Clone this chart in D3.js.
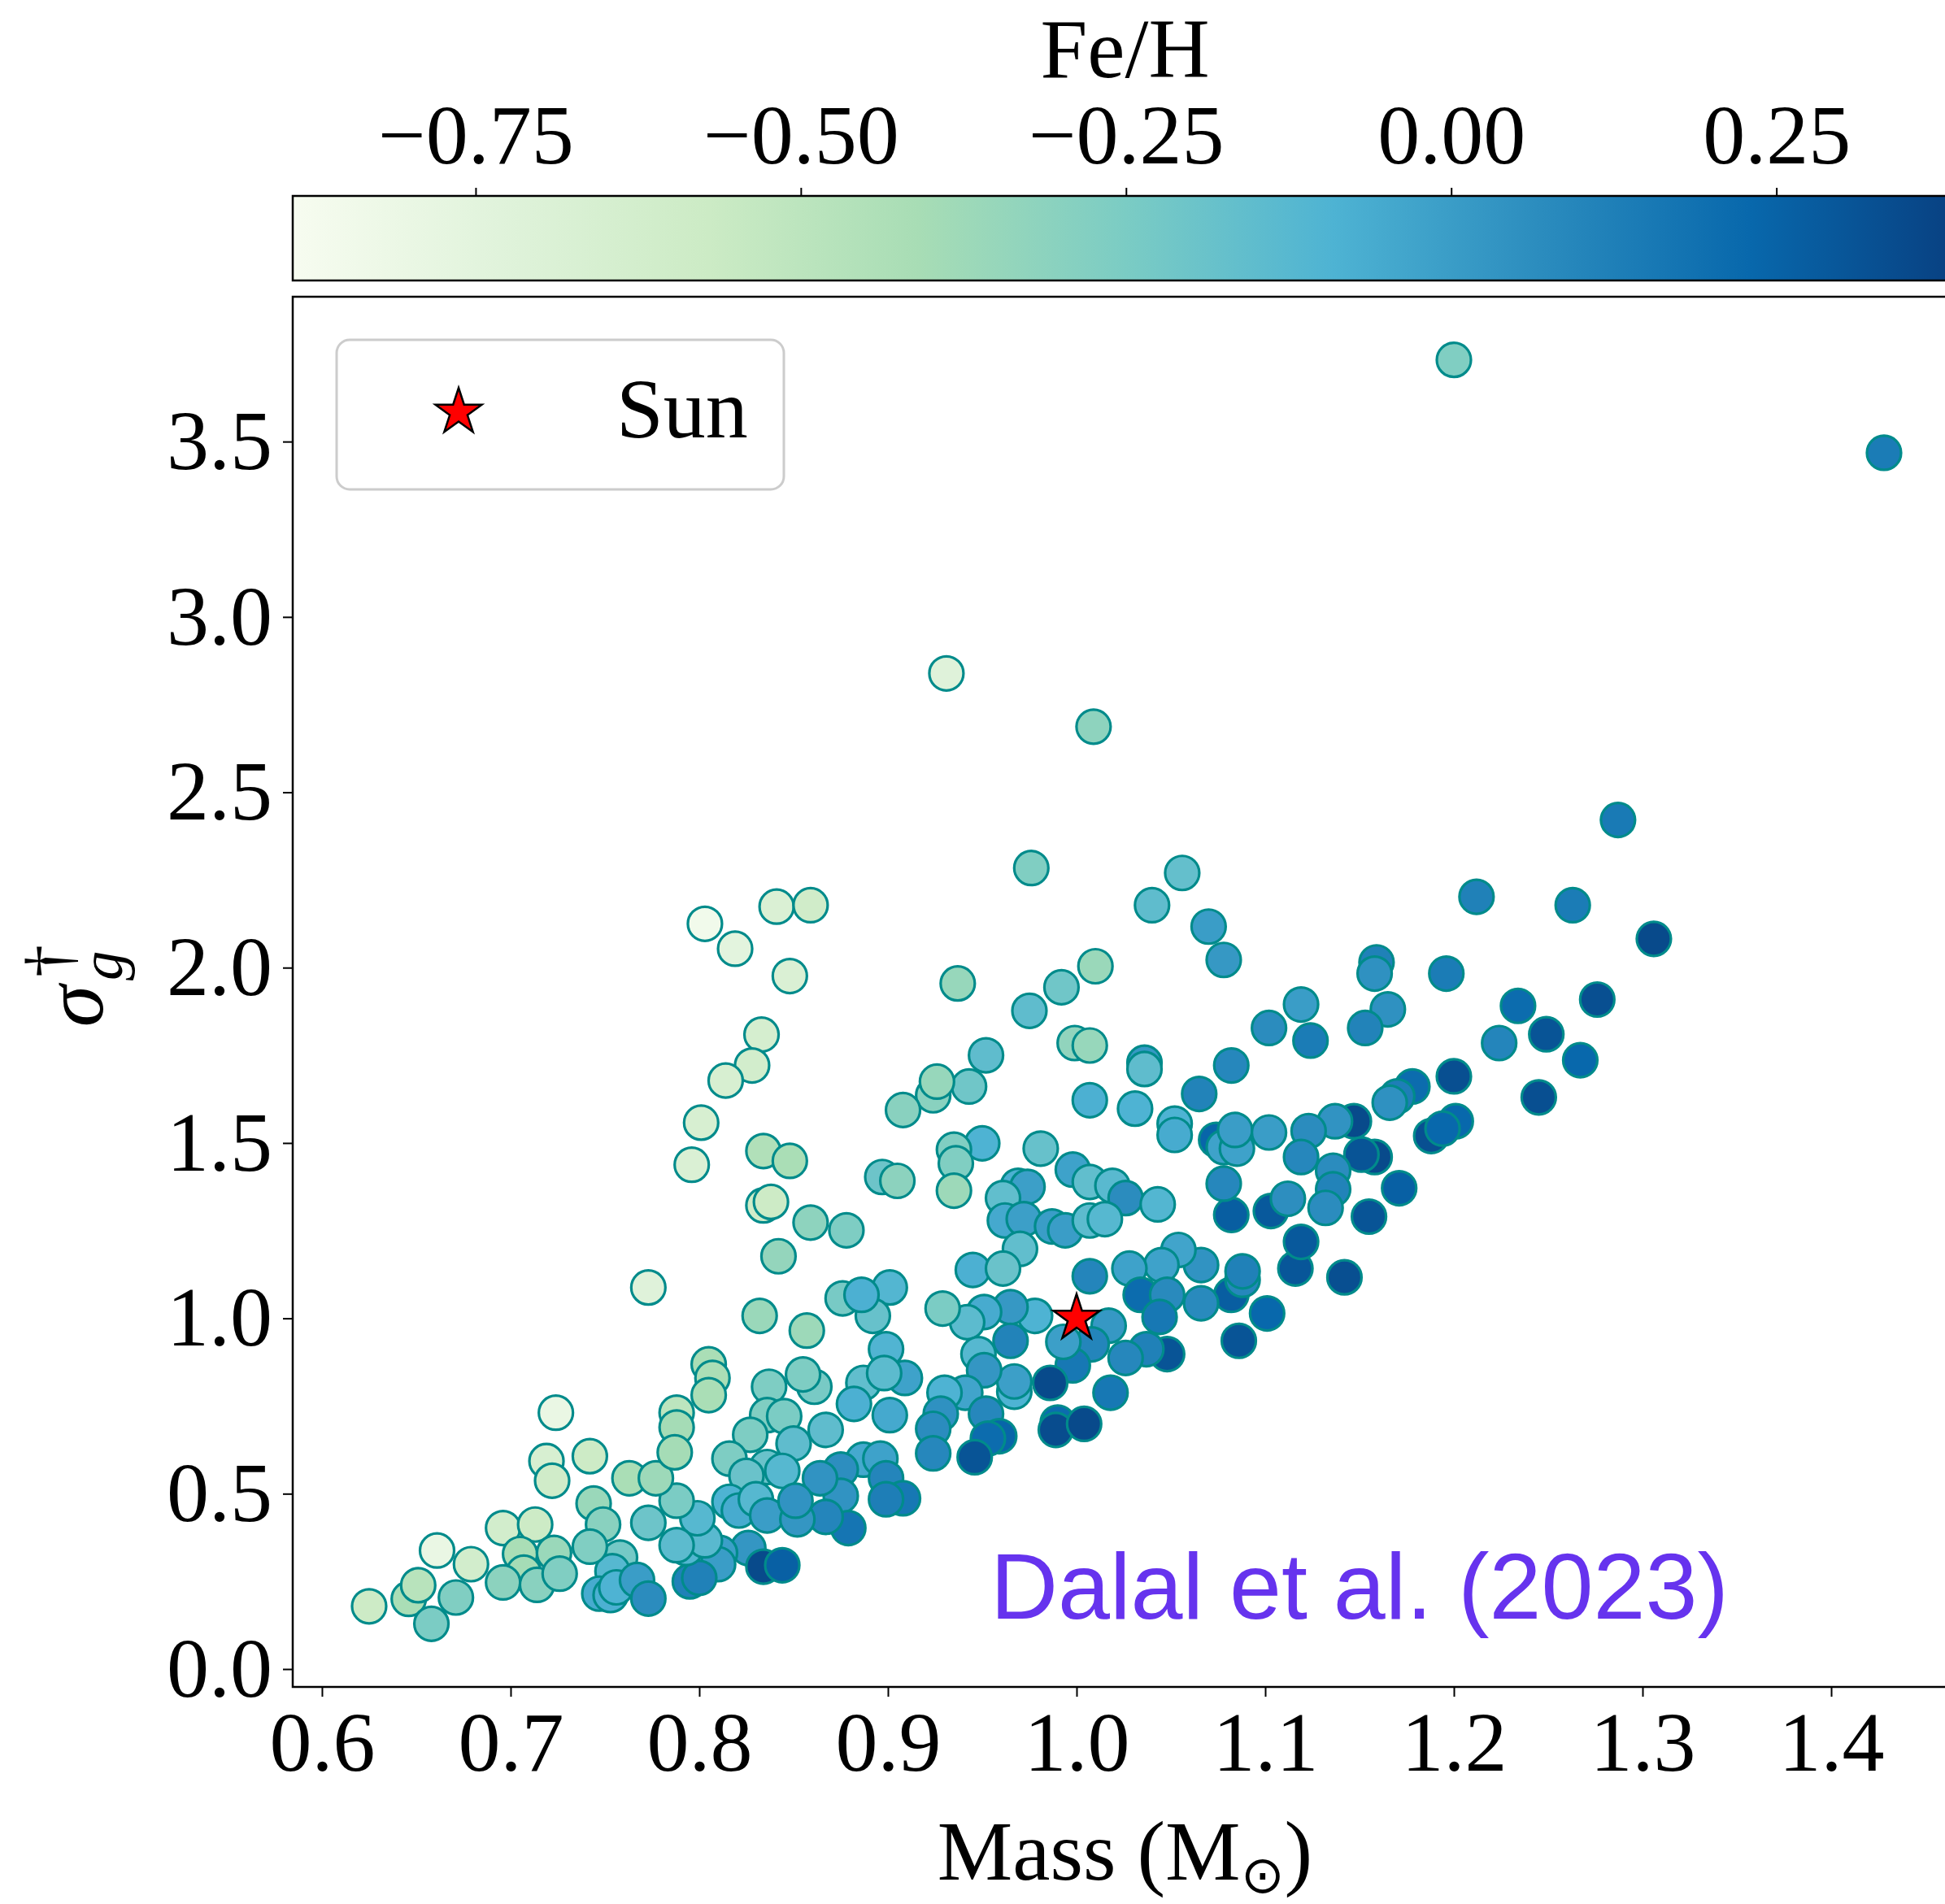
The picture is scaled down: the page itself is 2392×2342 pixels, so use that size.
<!DOCTYPE html>
<html>
<head>
<meta charset="utf-8">
<script src="https://cdn.jsdelivr.net/npm/d3@7"></script>
<style>
  html, body { margin: 0; padding: 0; background: #ffffff; }
  svg { display: block; }
</style>
</head>
<body>
<script>
// Stellar mass (solar units), granulation amplitude sigma_g^dagger and [Fe/H]
const mass = [
  1.200,1.428,0.931,1.009,1.287,0.976,1.056,1.040,1.212,1.263,1.306,0.803,0.819,0.841,0.859,0.848,
  1.070,1.078,1.010,0.992,0.937,0.975,1.196,1.159,1.158,1.119,1.165,1.234,1.276,1.102,1.153,1.124,
  1.224,1.249,1.267,1.245,1.200,1.178,1.170,1.166,1.201,1.188,1.194,1.147,1.137,1.123,1.158,1.151,
  1.136,1.136,1.132,1.171,1.155,1.142,1.116,1.119,1.082,1.103,1.112,1.078,1.101,1.086,1.082,1.088,
  1.088,1.066,1.066,1.054,1.045,1.028,1.034,1.048,1.044,1.048,1.037,1.026,1.018,1.017,1.008,0.998,
  0.993,0.986,0.990,0.989,1.004,1.007,0.978,0.965,0.965,0.951,0.942,0.929,0.948,0.967,0.967,0.951,
  0.941,0.930,0.928,0.952,0.924,0.959,0.953,0.946,0.924,0.909,0.899,0.901,0.892,0.876,0.887,0.898,
  0.882,0.901,0.867,0.887,0.896,0.875,0.899,0.875,0.908,0.899,0.879,0.867,0.864,0.861,0.855,0.837,
  0.836,0.845,0.850,0.827,0.816,0.836,0.844,0.825,0.816,0.821,0.830,0.836,0.852,0.851,0.826,0.834,
  0.844,0.811,0.810,0.795,0.800,0.793,0.803,0.799,0.788,0.788,0.773,0.758,0.754,0.747,0.753,0.756,
  0.767,0.773,0.744,0.749,0.742,0.805,0.807,0.805,0.724,0.719,0.722,0.742,0.763,0.777,0.788,0.788,
  0.787,0.625,0.646,0.651,0.658,0.661,0.671,0.679,0.696,0.713,0.705,0.707,0.723,0.696,0.714,0.726,
  0.773,0.832,0.857,0.842,0.859,0.878,0.834,0.838,0.834,0.848,0.833,0.828,0.814,0.801,0.796,0.952,
  0.943,0.924,0.926,0.908,0.950,0.935,0.936,0.935,0.981,0.998,1.007,0.999,1.007,1.007,0.897,0.905,
  0.969,0.974,0.961,0.962,0.972,0.987,0.994,0.970,1.007,0.945,0.961,1.019,1.026,1.043,1.015,1.036,
  1.036,1.031,1.052,1.052,1.082,1.065,1.074,1.078,1.085,1.084,1.102,1.119,0.886
];
const sigma = [
  3.733,3.468,2.839,2.687,2.421,2.284,2.270,2.178,2.202,2.178,2.082,2.125,2.054,2.174,2.178,1.976,
  2.117,2.022,2.004,1.944,1.955,1.877,1.983,2.015,1.983,1.895,1.881,1.891,1.909,1.828,1.828,1.792,
  1.785,1.810,1.736,1.630,1.690,1.661,1.633,1.615,1.562,1.520,1.541,1.562,1.562,1.534,1.460,1.467,
  1.421,1.368,1.315,1.371,1.290,1.117,1.142,1.218,1.295,1.306,1.341,1.384,1.014,0.936,1.067,1.110,
  1.134,1.152,1.043,1.195,1.152,1.142,1.067,1.067,1.004,0.898,0.912,0.887,0.788,0.979,0.926,0.866,
  0.933,0.816,0.703,0.682,0.699,1.120,1.007,1.032,0.936,1.018,0.989,1.028,0.898,0.791,0.820,0.852,
  0.788,0.788,0.728,0.728,0.685,0.664,0.657,0.604,0.615,0.830,0.912,1.088,1.007,1.057,0.816,0.844,
  0.756,0.724,0.682,0.597,0.600,0.569,0.544,0.494,0.487,0.484,0.402,0.434,0.544,0.805,0.840,0.805,
  0.724,0.721,0.643,0.668,0.600,0.576,0.565,0.551,0.477,0.452,0.484,0.438,0.427,0.480,0.345,0.292,
  0.296,0.331,0.299,0.250,0.260,0.345,0.367,0.430,0.480,0.353,0.417,0.318,0.279,0.215,0.211,0.233,
  0.254,0.201,0.472,0.412,0.349,0.869,0.830,0.781,0.731,0.593,0.537,0.607,0.544,0.544,0.731,0.689,
  0.618,0.179,0.200,0.239,0.129,0.338,0.204,0.299,0.402,0.412,0.328,0.275,0.331,0.247,0.240,0.272,
  1.088,1.007,0.965,1.177,1.273,1.251,1.322,1.332,1.477,1.449,1.809,1.721,1.678,1.558,1.438,1.750,
  1.661,1.636,1.675,1.594,1.499,1.481,1.442,1.364,1.484,1.424,1.389,1.785,1.778,1.622,1.403,1.392,
  1.378,1.375,1.343,1.279,1.283,1.262,1.251,1.198,1.279,1.138,1.142,1.378,1.343,1.325,1.283,1.729,
  1.711,1.598,1.555,1.523,1.721,1.640,1.509,1.488,1.484,1.537,1.530,1.460,1.067
];
const feh = [
  -0.27,0.14,-0.72,-0.32,0.15,-0.27,-0.17,-0.15,0.12,0.14,0.35,-0.85,-0.75,-0.68,-0.60,-0.68,
  0.00,0.02,-0.36,-0.21,-0.35,-0.15,0.14,0.12,0.05,0.00,0.05,0.21,0.33,0.07,0.11,0.14,
  0.10,0.31,0.23,0.33,0.33,0.21,0.13,0.05,0.23,0.33,0.23,0.35,0.04,0.07,0.35,0.31,
  0.07,0.11,0.07,0.26,0.31,0.33,0.30,0.29,0.27,0.29,0.06,0.09,0.23,0.31,0.27,0.09,
  0.12,0.04,0.08,-0.03,-0.02,-0.02,0.21,0.08,0.16,0.31,0.12,0.09,0.16,0.02,0.10,0.16,
  -0.01,0.35,0.21,0.34,0.35,0.10,-0.09,0.02,0.11,-0.06,-0.14,-0.25,-0.12,-0.09,-0.01,0.03,
  -0.03,-0.09,0.05,0.09,0.07,0.24,0.21,0.31,0.09,-0.02,-0.10,-0.11,-0.18,-0.24,-0.16,-0.14,
  -0.08,-0.05,-0.15,-0.05,-0.02,0.06,0.10,0.04,0.16,0.13,0.17,0.10,0.04,-0.24,-0.26,-0.26,
  -0.27,-0.25,-0.15,-0.26,-0.26,-0.19,-0.12,-0.19,-0.09,-0.06,-0.12,0.00,0.03,0.04,0.03,0.35,
  0.26,-0.01,0.00,0.12,0.12,-0.11,-0.13,-0.12,-0.25,-0.14,-0.20,-0.23,-0.12,-0.06,-0.08,-0.09,
  0.00,0.07,-0.36,-0.30,-0.27,-0.42,-0.42,-0.42,-0.80,-0.66,-0.60,-0.58,-0.42,-0.37,-0.50,-0.40,
  -0.40,-0.58,-0.42,-0.48,-0.25,-0.80,-0.27,-0.62,-0.62,-0.58,-0.42,-0.40,-0.36,-0.31,-0.30,-0.27,
  -0.72,-0.36,-0.37,-0.34,-0.32,-0.26,-0.60,-0.58,-0.45,-0.42,-0.64,-0.62,-0.66,-0.66,-0.68,-0.15,
  -0.21,-0.30,-0.35,-0.30,-0.09,-0.27,-0.27,-0.37,-0.18,-0.02,-0.16,-0.33,-0.35,-0.08,-0.20,-0.31,
  -0.08,-0.01,-0.16,-0.05,-0.01,0.00,0.00,-0.16,-0.14,-0.08,-0.19,-0.13,0.07,-0.11,-0.12,0.02,
  -0.15,-0.09,-0.09,-0.06,0.09,0.11,0.24,-0.02,-0.02,0.00,0.00,0.09,-0.08
];

// The Sun as reference point
const sunMass = [1.0];
const sunSigma = [1.0];

const xTicks = [0.6, 0.7, 0.8, 0.9, 1.0, 1.1, 1.2, 1.3, 1.4];
const yTicks = [0.0, 0.5, 1.0, 1.5, 2.0, 2.5, 3.0, 3.5];
const cTicks = [-0.75, -0.50, -0.25, 0.00, 0.25];

// GnBu colour ramp (ColorBrewer, 9 classes)
const gnbu = ["#f7fcf0","#e0f3db","#ccebc5","#a8ddb5","#7bccc4","#4eb3d3","#2b8cbe","#0868ac","#084081"];

const W = 2392, H = 2342;
const SERIF = "'Liberation Serif', 'Times New Roman', serif";
const FS = 104;

const plot = { left: 360, top: 365, right: 2407, bottom: 2075 };
const cbar = { left: 360, right: 2407, top: 241, bottom: 345 };

const x = d3.scaleLinear().domain([0.5845, 1.4668]).range([plot.left, plot.right]);
const y = d3.scaleLinear().domain([-0.051, 3.913]).range([plot.bottom, plot.top]);

const cMin = -0.8906, cMax = 0.389;
const cStops = d3.range(gnbu.length).map(i => cMin + (cMax - cMin) * i / (gnbu.length - 1));
const color = d3.scaleLinear().domain(cStops).range(gnbu).interpolate(d3.interpolateRgb).clamp(true);
const cx = d3.scaleLinear().domain([cMin, cMax]).range([cbar.left, cbar.right]);

const svg = d3.select("body").append("svg")
  .attr("width", W).attr("height", H)
  .attr("viewBox", `0 0 ${W} ${H}`);

svg.append("rect").attr("width", W).attr("height", H).attr("fill", "#ffffff");

// ---- colour bar ----
const defs = svg.append("defs");
const grad = defs.append("linearGradient").attr("id", "gnbu-grad")
  .attr("x1", "0%").attr("x2", "100%").attr("y1", "0%").attr("y2", "0%");
gnbu.forEach((c, i) => {
  grad.append("stop").attr("offset", (i / (gnbu.length - 1) * 100) + "%").attr("stop-color", c);
});

svg.append("rect")
  .attr("x", cbar.left).attr("y", cbar.top)
  .attr("width", cbar.right - cbar.left).attr("height", cbar.bottom - cbar.top)
  .attr("fill", "url(#gnbu-grad)")
  .attr("stroke", "#000").attr("stroke-width", 2.5);

const cAxis = svg.append("g")
  .attr("transform", `translate(0,${cbar.top})`)
  .call(d3.axisTop(cx).tickValues(cTicks).tickSize(10).tickPadding(30).tickFormat(d3.format(".2f")));
cAxis.select(".domain").remove();
cAxis.selectAll(".tick line").attr("stroke", "#000").attr("stroke-width", 2);
cAxis.selectAll(".tick text")
  .attr("font-family", SERIF).attr("font-size", FS).attr("fill", "#000").attr("dy", "0");

svg.append("text")
  .attr("x", (cbar.left + cbar.right) / 2).attr("y", 95)
  .attr("text-anchor", "middle")
  .attr("font-family", SERIF).attr("font-size", FS)
  .text("Fe/H");

// ---- main axes ----
const clip = defs.append("clipPath").attr("id", "plot-clip");
clip.append("rect").attr("x", plot.left).attr("y", plot.top)
  .attr("width", plot.right - plot.left).attr("height", plot.bottom - plot.top);

const xAxis = svg.append("g")
  .attr("transform", `translate(0,${plot.bottom})`)
  .call(d3.axisBottom(x).tickValues(xTicks).tickSize(12).tickPadding(17).tickFormat(d3.format(".1f")));
const yAxis = svg.append("g")
  .attr("transform", `translate(${plot.left},0)`)
  .call(d3.axisLeft(y).tickValues(yTicks).tickSize(12).tickPadding(13).tickFormat(d3.format(".1f")));
[xAxis, yAxis].forEach(a => {
  a.select(".domain").remove();
  a.selectAll(".tick line").attr("stroke", "#000").attr("stroke-width", 2);
  a.selectAll(".tick text").attr("font-family", SERIF).attr("font-size", FS).attr("fill", "#000");
});

// scatter points
const pts = mass.map((m, i) => ({ m, s: sigma[i], f: feh[i] }));
svg.append("g").attr("clip-path", "url(#plot-clip)")
  .selectAll("circle").data(pts).join("circle")
  .attr("cx", d => x(d.m)).attr("cy", d => y(d.s)).attr("r", 21)
  .attr("fill", d => color(d.f))
  .attr("stroke", "#008b8b").attr("stroke-width", 3.2);

// the Sun
const star = d3.symbol().type(d3.symbolStar).size(1010);
svg.append("g").selectAll("path").data(sunMass).join("path")
  .attr("d", star)
  .attr("transform", (d, i) => `translate(${x(d)},${y(sunSigma[i])})`)
  .attr("fill", "#ff0000").attr("stroke", "#000").attr("stroke-width", 2.5)
  .attr("stroke-linejoin", "miter");

// frame
svg.append("rect")
  .attr("x", plot.left).attr("y", plot.top)
  .attr("width", plot.right - plot.left).attr("height", plot.bottom - plot.top)
  .attr("fill", "none").attr("stroke", "#000").attr("stroke-width", 2.5);

// legend
const leg = svg.append("g");
leg.append("rect")
  .attr("x", 414).attr("y", 418).attr("width", 550).attr("height", 184)
  .attr("rx", 16).attr("ry", 16)
  .attr("fill", "#ffffff").attr("fill-opacity", 0.8)
  .attr("stroke", "#cccccc").attr("stroke-width", 3);
leg.append("path")
  .attr("d", star)
  .attr("transform", "translate(564,507)")
  .attr("fill", "#ff0000").attr("stroke", "#000").attr("stroke-width", 2.5);
leg.append("text")
  .attr("x", 758).attr("y", 538)
  .attr("font-family", SERIF).attr("font-size", FS)
  .text("Sun");

// annotation
svg.append("text")
  .attr("x", 1218).attr("y", 1991)
  .attr("font-family", "'Liberation Sans', Arial, Helvetica, sans-serif")
  .attr("font-size", 115).attr("fill", "#6633ee")
  .text("Dalal et al. (2023)");

// x label
const xl = svg.append("text")
  .attr("x", (plot.left + plot.right) / 2).attr("y", 2312)
  .attr("text-anchor", "middle")
  .attr("font-family", SERIF).attr("font-size", FS);
xl.append("tspan").text("Mass (M");
xl.append("tspan").attr("font-size", 64).attr("dy", 16).text("\u2299");
xl.append("tspan").attr("dy", -16).text(")");

// y label: sigma_g^dagger
const yl = svg.append("g").attr("transform", "translate(126,1216) rotate(-90)");
yl.append("text").attr("x", 4).attr("y", 0).attr("text-anchor", "end")
  .attr("font-family", SERIF).attr("font-style", "italic").attr("font-size", FS)
  .text("\u03C3");
yl.append("text").attr("x", 10).attr("y", 24)
  .attr("font-family", SERIF).attr("font-style", "italic").attr("font-size", 73)
  .text("g");
yl.append("text").attr("x", 14).attr("y", -39)
  .attr("font-family", SERIF).attr("font-size", 80)
  .text("\u2020");
</script>
</body>
</html>
